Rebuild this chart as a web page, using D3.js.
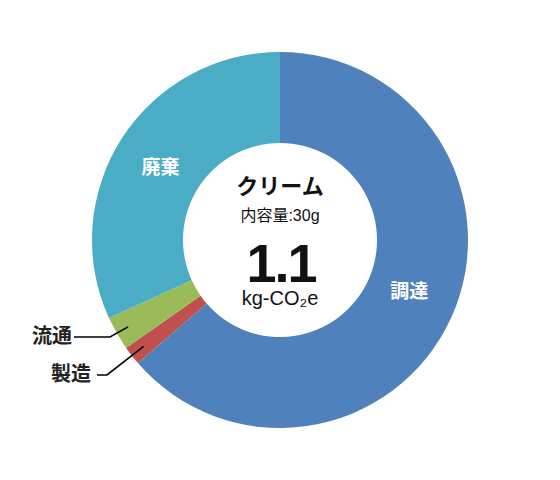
<!DOCTYPE html>
<html>
<head>
<meta charset="utf-8">
<script src="https://cdn.jsdelivr.net/npm/d3@7"></script>
<style>
  body { margin: 0; background: #fff; }
  text { font-family: "Liberation Sans", "Noto Sans CJK JP", sans-serif; }
</style>
</head>
<body>
<div id="chart"></div>
<script>
// Donut of CO2e breakdown by lifecycle stage
const stages = ['調達', '製造', '流通', '廃棄'];
const values = [0.70, 0.018, 0.032, 0.35];
const colors = ['#4f81bd', '#c0504d', '#9bbb59', '#4bacc6'];

const width = 560, height = 480;
const cx = 280, cy = 240;
const outerR = 188, innerR = 97;

const svg = d3.select('#chart').append('svg')
    .attr('width', width)
    .attr('height', height);

const g = svg.append('g').attr('transform', `translate(${cx},${cy})`);

const pie = d3.pie().sort(null).value(d => d.value);
const arc = d3.arc().innerRadius(innerR).outerRadius(outerR);
const data = pie(stages.map((s, i) => ({ stage: s, value: values[i], color: colors[i] })));

g.selectAll('path.slice').data(data).enter().append('path')
    .attr('class', 'slice')
    .attr('d', arc)
    .attr('fill', d => d.data.color);

// inside labels for big slices (small vertical nudge to match the original)
const labelArc = d3.arc().innerRadius(142).outerRadius(142);
const nudge = { '調達': -8, '廃棄': 4 };
g.selectAll('text.inlabel').data(data.filter(d => d.data.stage in nudge)).enter().append('text')
    .attr('class', 'inlabel')
    .attr('x', d => labelArc.centroid(d)[0])
    .attr('y', d => labelArc.centroid(d)[1] + nudge[d.data.stage])
    .attr('dy', '0.35em')
    .attr('text-anchor', 'middle')
    .attr('fill', '#fff')
    .attr('font-size', 19)
    .attr('font-weight', 'bold')
    .text(d => d.data.stage);

// callout labels for small slices
const callouts = {
    '流通': { r: 175, elbow: [-170, 97], end: -206, text: [-208, 96] },
    '製造': { r: 173, elbow: [-173, 135], end: -183, text: [-189, 134] }
};
data.filter(d => callouts[d.data.stage]).forEach(d => {
    const c = callouts[d.data.stage];
    const a = (d.startAngle + d.endAngle) / 2;
    const p0 = [Math.sin(a) * c.r, -Math.cos(a) * c.r];
    g.append('polyline')
        .attr('points', [p0, c.elbow, [c.end, c.elbow[1]]].map(p => p.join(',')).join(' '))
        .attr('fill', 'none')
        .attr('stroke', '#000')
        .attr('stroke-width', 1.6);
    g.append('text')
        .attr('x', c.text[0])
        .attr('y', c.text[1])
        .attr('dy', '0.35em')
        .attr('text-anchor', 'end')
        .attr('font-size', 20)
        .attr('font-weight', 'bold')
        .attr('fill', '#222')
        .text(d.data.stage);
});

// centre text
g.append('text').attr('x', 0).attr('y', -46)
    .attr('text-anchor', 'middle').attr('font-size', 22).attr('font-weight', 'bold')
    .attr('fill', '#111').text('クリーム');
g.append('text').attr('x', 0).attr('y', -19)
    .attr('text-anchor', 'middle').attr('font-size', 16)
    .attr('fill', '#111').text('内容量:30g');
g.append('text').attr('x', 1).attr('y', 42)
    .attr('text-anchor', 'middle').attr('font-size', 54).attr('font-weight', 'bold')
    .attr('letter-spacing', -2)
    .attr('fill', '#111').text(d3.sum(values).toFixed(1));
g.append('text').attr('x', 0).attr('y', 65)
    .attr('text-anchor', 'middle').attr('font-size', 20).attr('fill', '#111')
    .text('kg-CO\u2082e');
</script>
</body>
</html>
